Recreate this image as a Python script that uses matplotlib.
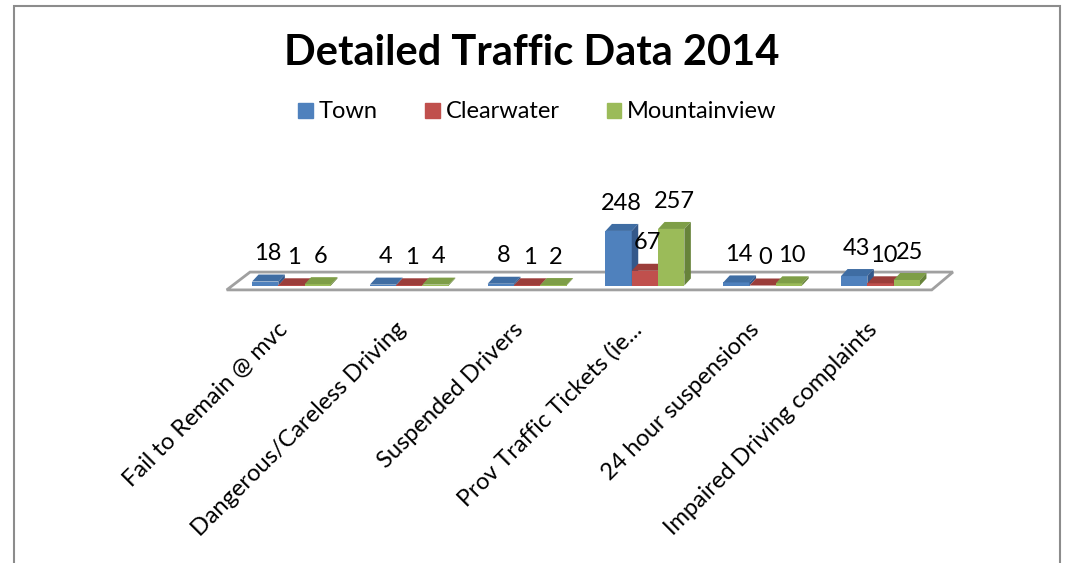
import matplotlib
matplotlib.use('Agg')
import matplotlib.pyplot as plt
from matplotlib.patches import Polygon, Rectangle, Patch

plt.rcParams['font.family'] = ['Lato', 'DejaVu Sans']

categories = ['Fail to Remain @ mvc', 'Dangerous/Careless Driving', 'Suspended Drivers',
              'Prov Traffic Tickets (ie...', '24 hour suspensions', 'Impaired Driving complaints']
series = ['Town', 'Clearwater', 'Mountainview']
town = [18, 4, 8, 248, 14, 43]
clearwater = [1, 1, 1, 67, 0, 10]
mountainview = [6, 4, 2, 257, 10, 25]

front_cols = ['#4F81BD', '#C0504D', '#9BBB59']
top_cols = ['#3F6DA3', '#9B3D3A', '#7E9E47']
side_cols = ['#34588A', '#8A3431', '#67833A']

W, H = 1075, 563
fig = plt.figure(figsize=(W / 100, H / 100), dpi=100)
ax = fig.add_axes([0, 0, 1, 1])
ax.axis('off')

# pixel layout of the fake 3d plot area
px_cat, x0_px = 117.8, 291.5
px_val, y0_px = 0.22, 285.5
ax.set_xlim(-x0_px / px_cat, (W - x0_px) / px_cat)
ax.set_ylim(-(H - y0_px) / px_val, y0_px / px_val)

bw = 26.3 / px_cat          # bar width
ddx = 6.5 / px_cat          # bar depth (x)
ddy = 7.0 / px_val          # bar depth (y)

# floor
n = len(categories)
fl = [(-0.55, -20), (n - 0.565, -20), (n - 0.385, 61), (-0.352, 61)]
ax.add_patch(Polygon(fl, closed=True, facecolor='white', edgecolor='#A0A0A0', lw=2, zorder=1))

data = [town, clearwater, mountainview]
for s, vals in enumerate(data):
    for i, v in enumerate(vals):
        xc = i + (s - 1) * bw
        xl, xr = xc - bw / 2, xc + bw / 2
        z = 3 + s
        ax.bar(xc, v, width=bw, color=front_cols[s], zorder=z)
        ax.add_patch(Polygon([(xl, v), (xr, v), (xr + ddx, v + ddy), (xl + ddx, v + ddy)],
                             closed=True, facecolor=top_cols[s], edgecolor='none', zorder=z))
        ax.add_patch(Polygon([(xr, 0), (xr + ddx, ddy), (xr + ddx, v + ddy), (xr, v)],
                             closed=True, facecolor=side_cols[s], edgecolor='none', zorder=z))
        ax.annotate(str(v), (xc, v), xytext=(2, 20), textcoords='offset points',
                    ha='center', va='center', fontsize=17, zorder=10)

for i, lab in enumerate(categories):
    ax.annotate(lab, (i, 0), xytext=(-5, -29), textcoords='offset points',
                rotation=45, rotation_mode='anchor', ha='right', va='center', fontsize=17)

fig.text(531.5 / W, 1 - 53 / H, 'Detailed Traffic Data 2014', ha='center', va='center',
         fontsize=30, fontweight='bold')

handles = [Patch(color=c) for c in front_cols]
fig.legend(handles, series, loc='center', bbox_to_anchor=(537.5 / W, 1 - 112 / H), ncol=3,
           frameon=False, fontsize=17, handlelength=0.62, handleheight=0.62,
           handletextpad=0.25, columnspacing=2.0)

fig.add_artist(Rectangle((14 / W, -0.05), (1060 - 14) / W, 1.05 - 6 / H, transform=fig.transFigure,
                         fill=False, edgecolor='#8C8C8C', lw=1.5))

fig.savefig('out.png', dpi=100)
